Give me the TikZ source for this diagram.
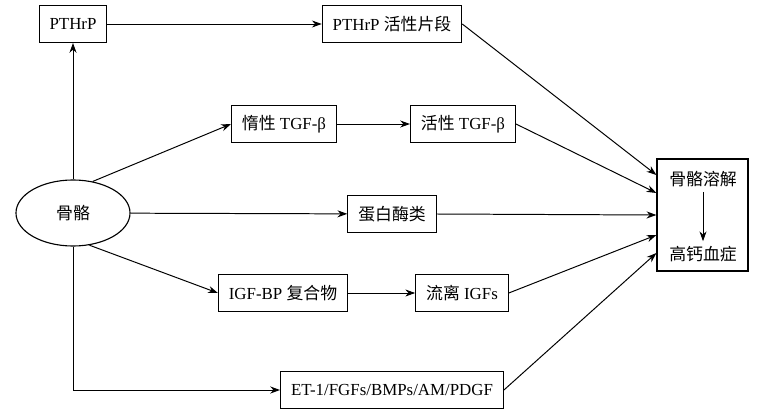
\documentclass[tikz,border=0pt]{standalone}
\usepackage{fontspec}
\setmainfont{Liberation Serif}
\newfontfamily\cjk{Noto Sans CJK SC}
\usetikzlibrary{positioning, calc, shapes, arrows.meta}

\begin{document}
\begin{tikzpicture}[x=0.025cm, y=-0.025cm, font=\fontsize{12}{14}\selectfont]
                % Define the styles for the boxes and the arrows
                \tikzstyle{factor box}=[draw, line width=0.8pt, minimum height=0.92cm, inner xsep=0.26cm];
                \tikzstyle{flow}=[line width=0.7pt, -{Stealth[length=7pt, width=5pt]}];
                
                \useasboundingbox (0,0) rectangle (764,420);
                
                % The bone on the left
                \node[draw, ellipse, line width=0.8pt, minimum width=2.85cm, minimum height=1.65cm] (bone) at (73,213) {\cjk 骨骼};
                
                % The factors released from the bone
                \node[factor box] (pthrp) at (73,24) {PTHrP};
                \node[factor box] (pthrpactive) at (392,24) {PTHrP {\cjk 活性片段}};
                \node[factor box] (tgfinert) at (284,124) {{\cjk 惰性} TGF-β};
                \node[factor box] (tgfactive) at (463,124) {{\cjk 活性} TGF-β};
                \node[factor box] (protease) at (392,214) {\cjk 蛋白酶类};
                \node[factor box] (igfbp) at (283,293) {IGF-BP {\cjk 复合物}};
                \node[factor box] (igffree) at (462,293) {{\cjk 流离} IGFs};
                \node[factor box] (others) at (392,390) {ET-1/FGFs/BMPs/AM/PDGF};
                
                % The result on the right
                \node[draw, line width=0.8pt, minimum width=2.275cm, minimum height=2.8cm] (outcome) at (702.5,215) {};
                \node (lysis) at (703,179) {\cjk 骨骼溶解};
                \node (hyper) at (703,254) {\cjk 高钙血症};
                \draw[flow] (lysis) -- (hyper);
                
                % Arrows leaving the bone
                \draw[flow] (bone) -- (pthrp);
                \draw[flow] (bone.58) -- (tgfinert.west);
                \draw[flow] (bone) -- (protease);
                \draw[flow] (bone.-63) -- (igfbp.west);
                \draw[flow] (bone) |- (others);
                
                % Activation steps
                \draw[flow] (pthrp) -- (pthrpactive);
                \draw[flow] (tgfinert) -- (tgfactive);
                \draw[flow] (igfbp) -- (igffree);
                
                % Everything ends in the result box
                \draw[flow] (pthrpactive.east) -- ([yshift=1cm]outcome.west);
                \draw[flow] (tgfactive.east) -- ([yshift=0.55cm]outcome.west);
                \draw[flow] (protease.east) -- (outcome.west);
                \draw[flow] (igffree.east) -- ([yshift=-0.5cm]outcome.west);
                \draw[flow] (others.east) -- ([yshift=-0.95cm]outcome.west);
            \end{tikzpicture}
\end{document}
